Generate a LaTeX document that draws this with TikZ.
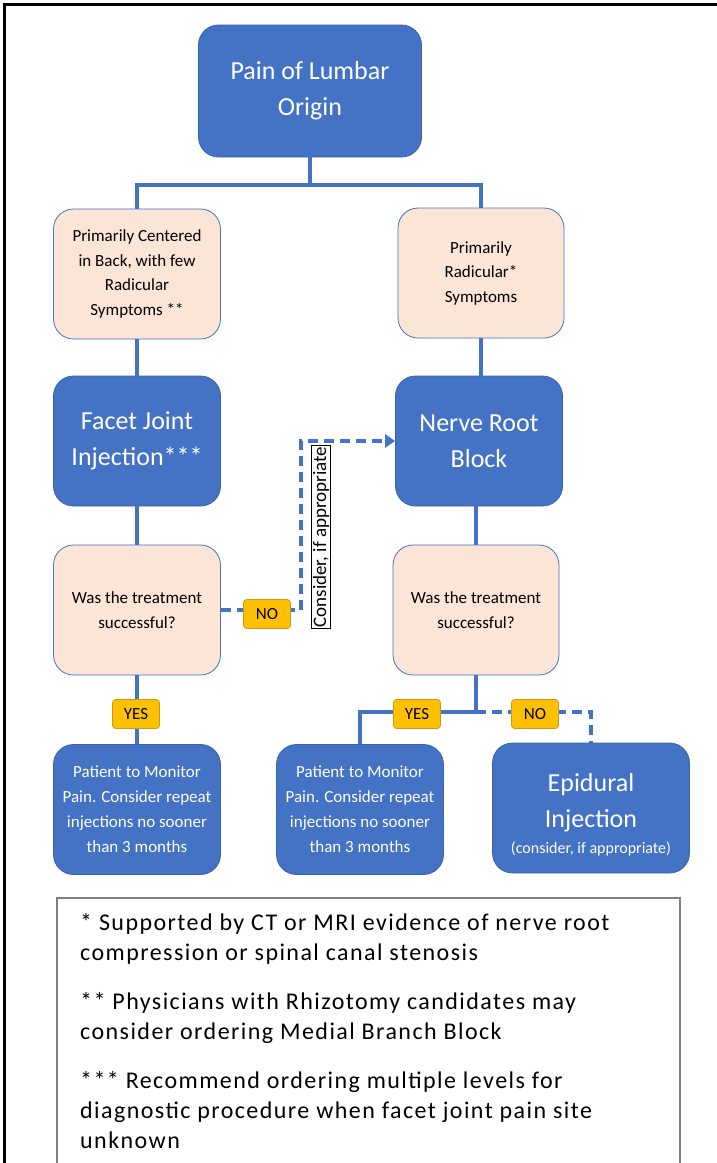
\documentclass[tikz,border=0pt]{standalone}
\usepackage{xcolor}
\usepackage{tikz}
\usetikzlibrary{arrows.meta}
\usepackage{fontspec}
\setmainfont{Carlito}

\definecolor{boxblue}{HTML}{4472C4}
\definecolor{boxedge}{HTML}{3A62AC}
\definecolor{peach}{HTML}{FBE5D6}
\definecolor{yesno}{HTML}{FFC000}
\definecolor{yesnoedge}{HTML}{C99A10}
\definecolor{noteedge}{HTML}{808080}

\tikzset{
	stepbox/.style={rectangle, rounded corners=20pt, minimum width=167pt, minimum height=130pt, align=center, inner sep=2pt},
	darkbox/.style={stepbox, fill=boxblue, draw=boxedge, line width=0.8pt, text=white, font=\fontsize{26}{36}\selectfont},
	monitorbox/.style={darkbox, font=\fontsize{17}{25}\selectfont},
	peachbox/.style={stepbox, fill=peach, draw=boxblue, line width=0.8pt, font=\fontsize{17}{24.5}\selectfont},
	answer/.style={rectangle, fill=yesno, draw=yesnoedge, line width=0.6pt, rounded corners=3pt, minimum width=47pt, minimum height=29pt, inner sep=1pt, font=\fontsize{17}{18}\selectfont},
	link/.style={draw=boxblue, line width=4pt},
	maybe/.style={link, dash pattern=on 10pt off 6pt}
}

\begin{document}
\begin{tikzpicture}[x=1pt,y=-1pt]
	\useasboundingbox (0,0) rectangle (717,1163);
	% frame
	\draw[line width=3pt] (4,1163) -- (4,4) -- (717,4);

	% top
	\node[darkbox, minimum width=223pt, minimum height=132pt] (origin) at (310,91) {Pain of Lumbar\\Origin};
	% left column
	\node[peachbox] (back) at (137,274) {Primarily Centered\\in Back, with few\\Radicular\\Symptoms **};
	\node[darkbox] (facet) at (137,441) {Facet Joint\\Injection***};
	\node[peachbox] (leftq) at (137,610) {Was the treatment\\successful?};
	\node[monitorbox] (leftmon) at (137,809.5) {Patient to Monitor\\Pain. Consider repeat\\injections no sooner\\than 3 months};
	% right column
	\node[peachbox, minimum width=166pt] (radic) at (481,273) {Primarily\\Radicular*\\Symptoms};
	\node[darkbox] (nerve) at (479,441) {Nerve Root\\Block};
	\node[peachbox, minimum width=166pt] (rightq) at (476,610) {Was the treatment\\successful?};
	\node[monitorbox] (midmon) at (360,809.5) {Patient to Monitor\\Pain. Consider repeat\\injections no sooner\\than 3 months};
	\node[darkbox, minimum width=197pt] (epid) at (591,808) {\\[-4pt]Epidural\\Injection\\[-10pt]{\fontsize{16}{18}\selectfont(consider, if appropriate)}};

	% connectors
	\draw[link] (origin.south) -- ++(0,27);
	\draw[link] (back.north) -- ++(0,-24) -| (radic.north);
	\draw[link] (back) -- (facet);
	\draw[link] (facet) -- (leftq);
	\draw[link] (leftq) -- (leftmon);
	\draw[link] (radic.south) -- (radic.south |- nerve.north);
	\draw[link] (nerve.south -| rightq.north) -- (rightq.north);
	\draw[link] (rightq.south) -- ++(0,37) coordinate (fork);
	\draw[link] (fork) -| (midmon.north);
	\draw[maybe] (fork) -| (epid.north);
	\draw[maybe, -{Triangle[length=10pt,width=13pt]}] (leftq.east) -- ++(80,0) coordinate (turn) |- (nerve.west);

	% labels
	\node[answer] (yesleft) at (136,714) {YES};
	\node[answer] (noleft) at (267,614) {NO};
	\node[answer] (yesright) at (417,714) {YES};
	\node[answer] (noright) at (535,714) {NO};
	\node[draw=black, line width=0.8pt, fill=white, rotate=90, inner sep=1.5pt, font=\fontsize{19}{20}\selectfont] (consider) at (321,537) {Consider, if appropriate};

	% notes
	\draw[draw=noteedge, line width=2pt] (57,1163) -- (57,898) -- (680,898) -- (680,1163);
	\node[anchor=north west, align=left, inner sep=0pt, font=\fontsize{24}{30}\selectfont\addfontfeatures{LetterSpace=6}] (notes) at (80,913) {%
		* Supported by CT or MRI evidence of nerve root\\
		compression or spinal canal stenosis\\[19pt]
		** Physicians with Rhizotomy candidates may\\
		consider ordering Medial Branch Block\\[19pt]
		*** Recommend ordering multiple levels for\\
		diagnostic procedure when facet joint pain site\\
		unknown};
\end{tikzpicture}
\end{document}
